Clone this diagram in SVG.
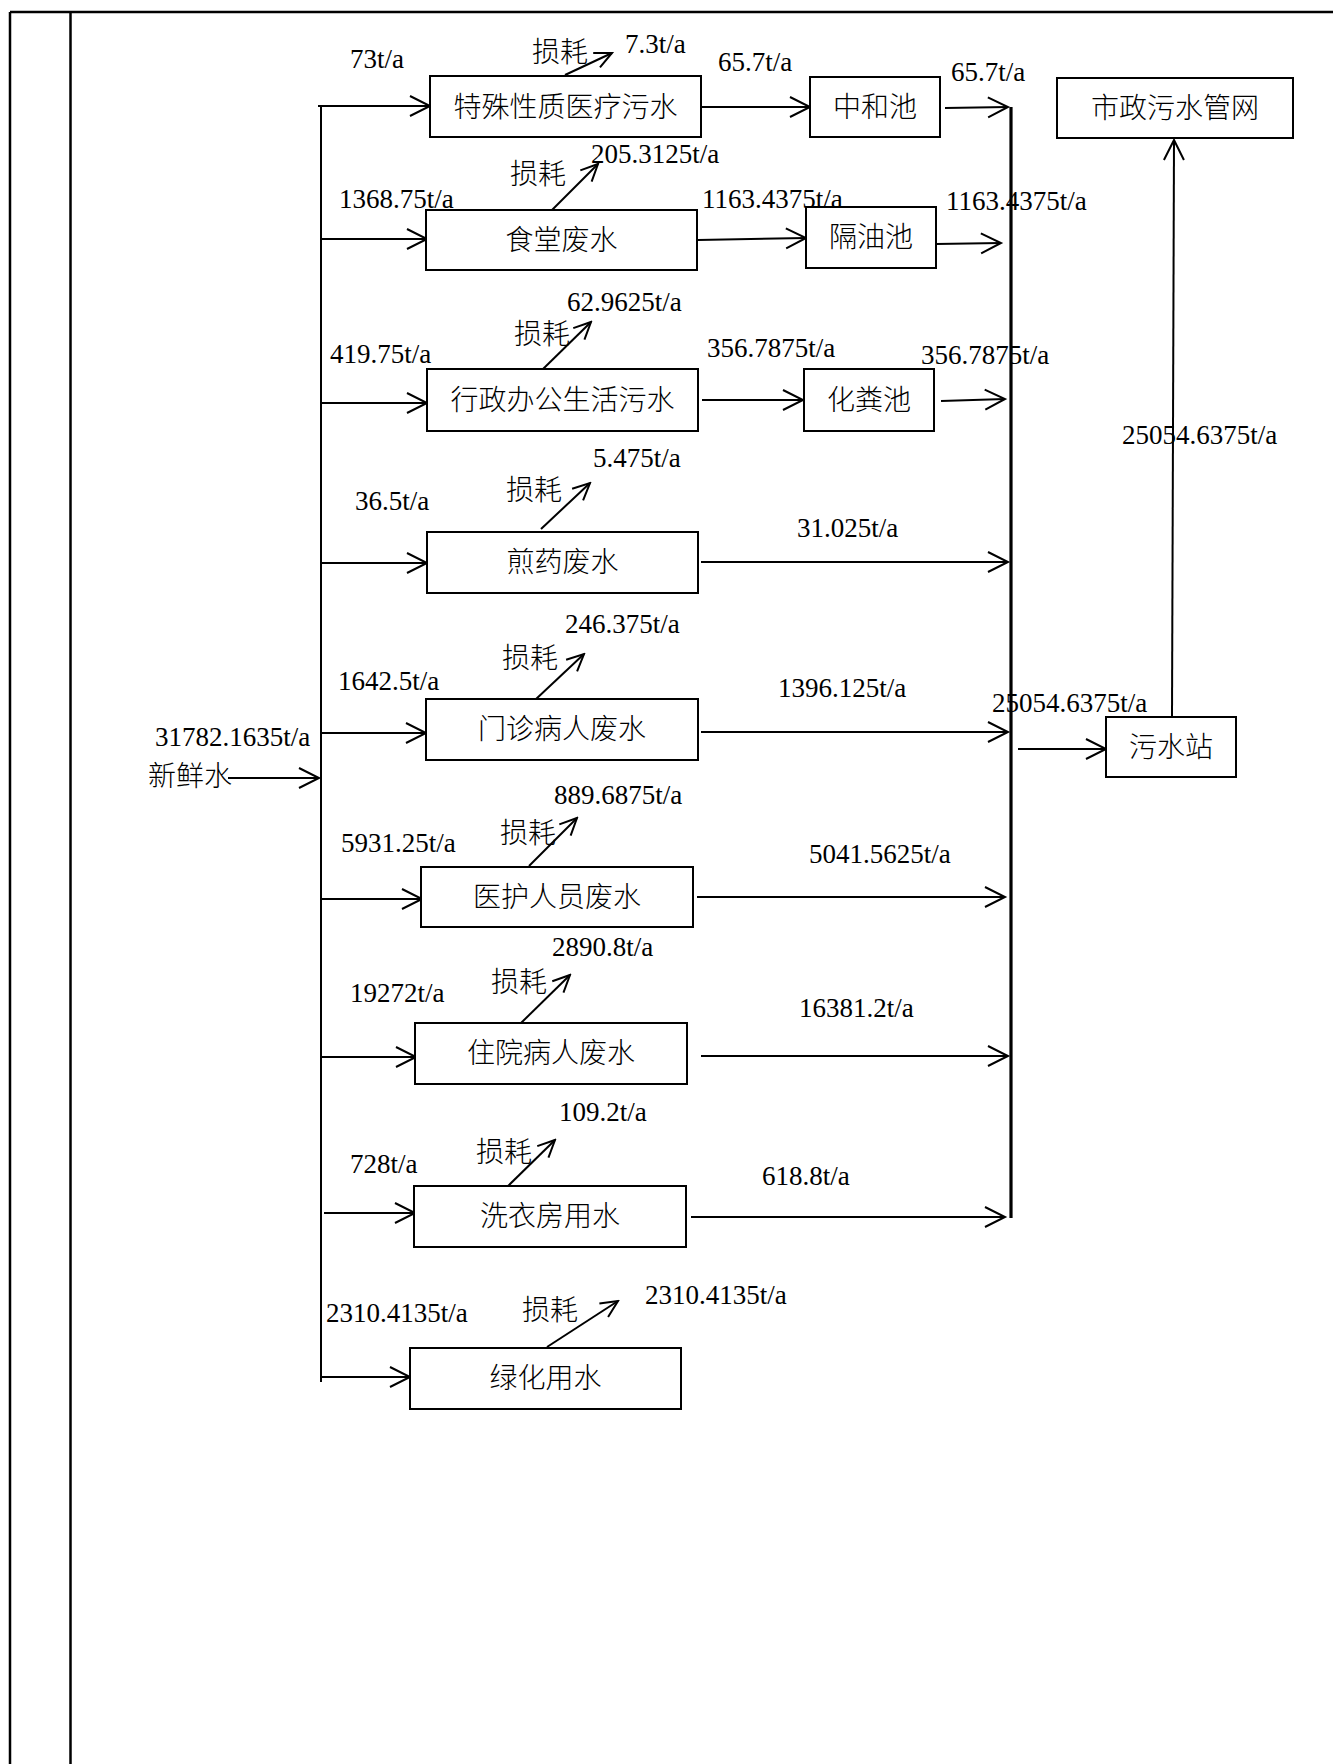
<svg xmlns="http://www.w3.org/2000/svg" width="1333" height="1764" viewBox="0 0 1333 1764">
<style>
.frame{stroke:#000;stroke-width:2.5;fill:none}
.box{fill:#fff;stroke:#000;stroke-width:2}
.ln{stroke:#000;stroke-width:2;fill:none}
.bus{stroke:#000;stroke-width:3.2;fill:none}
.arr{marker-end:url(#ah)}
.loss{marker-end:url(#ah2)}
.cn{font-family:"Noto Sans CJK SC","Noto Sans",sans-serif;font-size:28px;font-weight:300;fill:#000}
.ctr{text-anchor:middle}
.num{font-family:"Liberation Serif","Times New Roman",serif;font-size:27px;fill:#000}
</style>
<defs>
<marker id="ah" markerUnits="userSpaceOnUse" viewBox="-23 -13 26 26" markerWidth="26" markerHeight="26" refX="0" refY="0" orient="auto">
<path d="M-20,-10 L0,0 L-20,10" fill="none" stroke="#000" stroke-width="2"/>
</marker>
<marker id="ah2" markerUnits="userSpaceOnUse" viewBox="-20 -11 22 22" markerWidth="22" markerHeight="22" refX="0" refY="0" orient="auto">
<path d="M-17,-8 L0,0 L-17,8" fill="none" stroke="#000" stroke-width="2"/>
</marker>
</defs>
<rect width="1333" height="1764" fill="#fff"/>
<g id="frame">
<line class="frame" x1="10" y1="12" x2="1333" y2="12"/>
<line class="frame" x1="10" y1="12" x2="10" y2="1764"/>
<line class="frame" x1="70.5" y1="12" x2="70.5" y2="1764"/>
</g>
<g id="connectors">
<line class="ln" x1="321" y1="106" x2="321" y2="1382"/>
<line class="bus" x1="1011" y1="107" x2="1011" y2="1218"/>
<line class="ln arr" x1="228" y1="778" x2="319" y2="778"/>
<line class="ln arr" x1="318" y1="106" x2="430" y2="106"/>
<line class="ln arr" x1="322" y1="239" x2="427" y2="239"/>
<line class="ln arr" x1="321" y1="403" x2="427" y2="403"/>
<line class="ln arr" x1="321" y1="563" x2="427" y2="563"/>
<line class="ln arr" x1="321" y1="733" x2="426" y2="733"/>
<line class="ln arr" x1="321" y1="899" x2="422" y2="899"/>
<line class="ln arr" x1="321" y1="1057" x2="416" y2="1057"/>
<line class="ln arr" x1="324" y1="1213" x2="415" y2="1213"/>
<line class="ln arr" x1="321" y1="1377" x2="410" y2="1377"/>
<line class="ln arr" x1="701" y1="107" x2="810" y2="107"/>
<line class="ln arr" x1="945" y1="108" x2="1008" y2="107"/>
<line class="ln arr" x1="698" y1="240" x2="806" y2="238"/>
<line class="ln arr" x1="936" y1="244" x2="1001" y2="243"/>
<line class="ln arr" x1="702" y1="400" x2="803" y2="400"/>
<line class="ln arr" x1="941" y1="401" x2="1005" y2="399"/>
<line class="ln arr" x1="701" y1="562" x2="1008" y2="562"/>
<line class="ln arr" x1="701" y1="732" x2="1008" y2="732"/>
<line class="ln arr" x1="697" y1="897" x2="1005" y2="897"/>
<line class="ln arr" x1="701" y1="1056" x2="1008" y2="1056"/>
<line class="ln arr" x1="691" y1="1217" x2="1005" y2="1217"/>
<line class="ln arr" x1="1018" y1="749" x2="1106" y2="749"/>
<line class="ln arr" x1="1172" y1="717" x2="1174" y2="140"/>
<line class="ln loss" x1="565" y1="75" x2="612" y2="53"/>
<line class="ln loss" x1="551" y1="211" x2="598" y2="164"/>
<line class="ln loss" x1="543" y1="369" x2="591" y2="322"/>
<line class="ln loss" x1="541" y1="529" x2="590" y2="483"/>
<line class="ln loss" x1="535" y1="700" x2="584" y2="654"/>
<line class="ln loss" x1="529" y1="866" x2="577" y2="818"/>
<line class="ln loss" x1="521" y1="1023" x2="570" y2="975"/>
<line class="ln loss" x1="507" y1="1187" x2="555" y2="1140"/>
<line class="ln loss" x1="547" y1="1347" x2="618" y2="1301"/>
</g>
<g id="n1"><rect class="box" x="430" y="76" width="271" height="61"/><text class="cn ctr" x="565.5" y="117">特殊性质医疗污水</text></g>
<g id="n2"><rect class="box" x="810" y="77" width="130" height="60"/><text class="cn ctr" x="875" y="117">中和池</text></g>
<g id="n3"><rect class="box" x="1057" y="78" width="236" height="60"/><text class="cn ctr" x="1175" y="118">市政污水管网</text></g>
<g id="n4"><rect class="box" x="426" y="210" width="271" height="60"/><text class="cn ctr" x="561.5" y="250">食堂废水</text></g>
<g id="n5"><rect class="box" x="806" y="207" width="130" height="61"/><text class="cn ctr" x="871" y="247">隔油池</text></g>
<g id="n6"><rect class="box" x="427" y="369" width="271" height="62"/><text class="cn ctr" x="562.5" y="410">行政办公生活污水</text></g>
<g id="n7"><rect class="box" x="804" y="369" width="130" height="62"/><text class="cn ctr" x="869" y="410">化粪池</text></g>
<g id="n8"><rect class="box" x="427" y="532" width="271" height="61"/><text class="cn ctr" x="562.5" y="572">煎药废水</text></g>
<g id="n9"><rect class="box" x="426" y="699" width="272" height="61"/><text class="cn ctr" x="562" y="739">门诊病人废水</text></g>
<g id="n10"><rect class="box" x="1106" y="717" width="130" height="60"/><text class="cn ctr" x="1171" y="757">污水站</text></g>
<g id="n11"><rect class="box" x="421" y="867" width="272" height="60"/><text class="cn ctr" x="557" y="907">医护人员废水</text></g>
<g id="n12"><rect class="box" x="415" y="1023" width="272" height="61"/><text class="cn ctr" x="551" y="1063">住院病人废水</text></g>
<g id="n13"><rect class="box" x="414" y="1186" width="272" height="61"/><text class="cn ctr" x="550" y="1226">洗衣房用水</text></g>
<g id="n14"><rect class="box" x="410" y="1348" width="271" height="61"/><text class="cn ctr" x="545.5" y="1388">绿化用水</text></g>
<g id="labels">
<text class="cn" x="148" y="786">新鲜水</text>
<text class="num" x="155" y="746">31782.1635t/a</text>
<text class="num" x="350" y="68">73t/a</text>
<text class="cn" x="532" y="62">损耗</text>
<text class="num" x="625" y="53">7.3t/a</text>
<text class="num" x="718" y="71">65.7t/a</text>
<text class="num" x="951" y="81">65.7t/a</text>
<text class="num" x="591" y="163">205.3125t/a</text>
<text class="cn" x="510" y="184">损耗</text>
<text class="num" x="339" y="208">1368.75t/a</text>
<text class="num" x="702" y="208">1163.4375t/a</text>
<text class="num" x="946" y="210">1163.4375t/a</text>
<text class="num" x="567" y="311">62.9625t/a</text>
<text class="cn" x="514" y="344">损耗</text>
<text class="num" x="330" y="363">419.75t/a</text>
<text class="num" x="707" y="357">356.7875t/a</text>
<text class="num" x="921" y="364">356.7875t/a</text>
<text class="num" x="1122" y="444">25054.6375t/a</text>
<text class="num" x="593" y="467">5.475t/a</text>
<text class="cn" x="506" y="500">损耗</text>
<text class="num" x="355" y="510">36.5t/a</text>
<text class="num" x="797" y="537">31.025t/a</text>
<text class="num" x="565" y="633">246.375t/a</text>
<text class="cn" x="502" y="668">损耗</text>
<text class="num" x="338" y="690">1642.5t/a</text>
<text class="num" x="778" y="697">1396.125t/a</text>
<text class="num" x="992" y="712">25054.6375t/a</text>
<text class="num" x="554" y="804">889.6875t/a</text>
<text class="cn" x="500" y="843">损耗</text>
<text class="num" x="341" y="852">5931.25t/a</text>
<text class="num" x="809" y="863">5041.5625t/a</text>
<text class="num" x="552" y="956">2890.8t/a</text>
<text class="cn" x="491" y="992">损耗</text>
<text class="num" x="350" y="1002">19272t/a</text>
<text class="num" x="799" y="1017">16381.2t/a</text>
<text class="num" x="559" y="1121">109.2t/a</text>
<text class="cn" x="476" y="1162">损耗</text>
<text class="num" x="350" y="1173">728t/a</text>
<text class="num" x="762" y="1185">618.8t/a</text>
<text class="num" x="326" y="1322">2310.4135t/a</text>
<text class="cn" x="522" y="1320">损耗</text>
<text class="num" x="645" y="1304">2310.4135t/a</text>
</g>
</svg>
